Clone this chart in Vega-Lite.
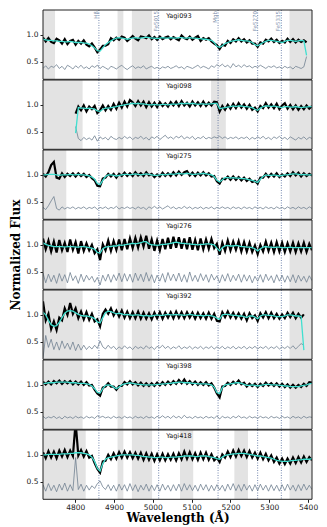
{
"$schema": "https://vega.github.io/schema/vega-lite/v6.json",
"background": "white",
"padding": {"left": 9, "top": 9, "right": 5, "bottom": 3},
"spacing": 0,
"bounds": "flush",
"config": {
 "view": {"stroke": null},
 "font": "DejaVu Sans",
 "axisX": {"grid": false, "domain": false, "tickSize": 3, "tickColor": "#222", "labelFontSize": 7.5, "labelColor": "#222", "labelFont": "DejaVu Sans", "titleFont": "DejaVu Serif", "titleFontWeight": "bold", "titleFontSize": 12, "titleColor": "#000", "titlePadding": 2, "labelPadding": 1},
 "axisY": {"grid": false, "domain": false, "tickSize": 3, "tickColor": "#222", "labelFontSize": 7.5, "labelColor": "#222", "labelFont": "DejaVu Sans", "titleFont": "DejaVu Serif", "titleFontWeight": "bold", "titleFontSize": 12, "titleColor": "#000", "labelPadding": 2}
},
"datasets": {
 "lines": [{"t":"Hβ","w":4861},{"t":"Fe5015","w":5015},{"t":"Mgb","w":5168},{"t":"Fe5270","w":5270},{"t":"Fe5335","w":5331}],
 "mask": [
  {"p":1,"a":4717,"b":4748},{"p":1,"a":4909,"b":4924},{"p":1,"a":4946,"b":4998},{"p":1,"a":5352,"b":5410},
  {"p":2,"a":4717,"b":4819},{"p":2,"a":4909,"b":4924},{"p":2,"a":4946,"b":4998},{"p":2,"a":5150,"b":5188},{"p":2,"a":5352,"b":5410},
  {"p":3,"a":4717,"b":4777},{"p":3,"a":4909,"b":4924},{"p":3,"a":4946,"b":4998},{"p":3,"a":5352,"b":5410},
  {"p":4,"a":4717,"b":4777},{"p":4,"a":4909,"b":4924},{"p":4,"a":4946,"b":4998},{"p":4,"a":5352,"b":5410},
  {"p":5,"a":4717,"b":4819},{"p":5,"a":4909,"b":4924},{"p":5,"a":4946,"b":4998},{"p":5,"a":5352,"b":5410},
  {"p":6,"a":4717,"b":4819},{"p":6,"a":4909,"b":4924},{"p":6,"a":4946,"b":4998},{"p":6,"a":5352,"b":5410},
  {"p":7,"a":4717,"b":4827},{"p":7,"a":4909,"b":4924},{"p":7,"a":4946,"b":4998},{"p":7,"a":5070,"b":5104},{"p":7,"a":5210,"b":5245},{"p":7,"a":5352,"b":5410}
 ],
 "spec": [
{"p":1,"w":4717,"f":0.95,"m":0.92,"r":0.38},{"p":1,"w":4724,"f":0.88,"m":0.91,"r":0.43},{"p":1,"w":4731,"f":0.94,"m":0.90,"r":0.37},{"p":1,"w":4738,"f":0.87,"m":0.90,"r":0.42},{"p":1,"w":4745,"f":0.85,"m":0.89,"r":0.40},{"p":1,"w":4752,"f":0.93,"m":0.89,"r":0.45},{"p":1,"w":4759,"f":0.90,"m":0.88,"r":0.38},{"p":1,"w":4766,"f":0.84,"m":0.88,"r":0.42},{"p":1,"w":4773,"f":0.92,"m":0.87,"r":0.36},{"p":1,"w":4780,"f":0.83,"m":0.87,"r":0.44},
{"p":1,"w":4787,"f":0.89,"m":0.88,"r":0.41},{"p":1,"w":4794,"f":0.91,"m":0.87,"r":0.37},{"p":1,"w":4801,"f":0.82,"m":0.86,"r":0.43},{"p":1,"w":4808,"f":0.89,"m":0.86,"r":0.39},{"p":1,"w":4815,"f":0.84,"m":0.86,"r":0.44},{"p":1,"w":4822,"f":0.90,"m":0.85,"r":0.38},{"p":1,"w":4829,"f":0.82,"m":0.85,"r":0.41},{"p":1,"w":4836,"f":0.79,"m":0.83,"r":0.37},{"p":1,"w":4843,"f":0.84,"m":0.80,"r":0.43},{"p":1,"w":4850,"f":0.77,"m":0.76,"r":0.40},
{"p":1,"w":4857,"f":0.68,"m":0.71,"r":0.44},{"p":1,"w":4864,"f":0.73,"m":0.70,"r":0.38},{"p":1,"w":4871,"f":0.80,"m":0.76,"r":0.42},{"p":1,"w":4878,"f":0.80,"m":0.82,"r":0.39},{"p":1,"w":4885,"f":0.83,"m":0.86,"r":0.36},{"p":1,"w":4892,"f":0.94,"m":0.89,"r":0.42},{"p":1,"w":4899,"f":0.90,"m":0.92,"r":0.40},{"p":1,"w":4906,"f":0.95,"m":0.94,"r":0.37},{"p":1,"w":4913,"f":0.91,"m":0.95,"r":0.41},{"p":1,"w":4920,"f":0.97,"m":0.94,"r":0.44},
{"p":1,"w":4927,"f":0.95,"m":0.93,"r":0.39},{"p":1,"w":4934,"f":0.89,"m":0.92,"r":0.36},{"p":1,"w":4941,"f":0.93,"m":0.93,"r":0.40},{"p":1,"w":4948,"f":0.98,"m":0.94,"r":0.43},{"p":1,"w":4955,"f":0.93,"m":0.95,"r":0.38},{"p":1,"w":4962,"f":0.90,"m":0.94,"r":0.41},{"p":1,"w":4969,"f":0.97,"m":0.94,"r":0.39},{"p":1,"w":4976,"f":0.96,"m":0.95,"r":0.43},{"p":1,"w":4983,"f":0.94,"m":0.96,"r":0.37},{"p":1,"w":4990,"f":0.99,"m":0.95,"r":0.40},
{"p":1,"w":4997,"f":0.92,"m":0.94,"r":0.42},{"p":1,"w":5004,"f":0.96,"m":0.94,"r":0.38},{"p":1,"w":5011,"f":0.91,"m":0.93,"r":0.40},{"p":1,"w":5018,"f":0.97,"m":0.94,"r":0.37},{"p":1,"w":5025,"f":0.92,"m":0.95,"r":0.41},{"p":1,"w":5032,"f":0.95,"m":0.94,"r":0.39},{"p":1,"w":5039,"f":0.97,"m":0.94,"r":0.42},{"p":1,"w":5046,"f":0.92,"m":0.95,"r":0.38},{"p":1,"w":5053,"f":0.96,"m":0.94,"r":0.40},{"p":1,"w":5060,"f":0.93,"m":0.94,"r":0.43},
{"p":1,"w":5067,"f":0.90,"m":0.95,"r":0.39},{"p":1,"w":5074,"f":0.99,"m":0.95,"r":0.41},{"p":1,"w":5081,"f":0.94,"m":0.94,"r":0.37},{"p":1,"w":5088,"f":0.92,"m":0.94,"r":0.42},{"p":1,"w":5095,"f":0.97,"m":0.95,"r":0.40},{"p":1,"w":5102,"f":0.91,"m":0.94,"r":0.38},{"p":1,"w":5109,"f":0.95,"m":0.94,"r":0.41},{"p":1,"w":5116,"f":0.98,"m":0.93,"r":0.44},{"p":1,"w":5123,"f":0.89,"m":0.93,"r":0.39},{"p":1,"w":5130,"f":0.94,"m":0.92,"r":0.42},
{"p":1,"w":5137,"f":0.91,"m":0.92,"r":0.40},{"p":1,"w":5144,"f":0.94,"m":0.91,"r":0.37},{"p":1,"w":5151,"f":0.88,"m":0.90,"r":0.43},{"p":1,"w":5158,"f":0.84,"m":0.86,"r":0.40},{"p":1,"w":5165,"f":0.81,"m":0.79,"r":0.45},{"p":1,"w":5172,"f":0.74,"m":0.77,"r":0.42},{"p":1,"w":5179,"f":0.82,"m":0.80,"r":0.46},{"p":1,"w":5186,"f":0.80,"m":0.84,"r":0.41},{"p":1,"w":5193,"f":0.89,"m":0.86,"r":0.44},{"p":1,"w":5200,"f":0.85,"m":0.88,"r":0.39},
{"p":1,"w":5207,"f":0.92,"m":0.89,"r":0.47},{"p":1,"w":5214,"f":0.88,"m":0.90,"r":0.41},{"p":1,"w":5221,"f":0.94,"m":0.91,"r":0.44},{"p":1,"w":5228,"f":0.88,"m":0.90,"r":0.40},{"p":1,"w":5235,"f":0.92,"m":0.89,"r":0.45},{"p":1,"w":5242,"f":0.86,"m":0.89,"r":0.41},{"p":1,"w":5249,"f":0.90,"m":0.88,"r":0.43},{"p":1,"w":5256,"f":0.84,"m":0.86,"r":0.39},{"p":1,"w":5263,"f":0.84,"m":0.82,"r":0.42},{"p":1,"w":5270,"f":0.78,"m":0.80,"r":0.40},
{"p":1,"w":5277,"f":0.86,"m":0.83,"r":0.44},{"p":1,"w":5284,"f":0.84,"m":0.86,"r":0.41},{"p":1,"w":5291,"f":0.91,"m":0.88,"r":0.38},{"p":1,"w":5298,"f":0.88,"m":0.90,"r":0.42},{"p":1,"w":5305,"f":0.93,"m":0.90,"r":0.40},{"p":1,"w":5312,"f":0.87,"m":0.89,"r":0.43},{"p":1,"w":5319,"f":0.91,"m":0.88,"r":0.39},{"p":1,"w":5326,"f":0.85,"m":0.87,"r":0.41},{"p":1,"w":5333,"f":0.89,"m":0.86,"r":0.38},{"p":1,"w":5340,"f":0.86,"m":0.88,"r":0.42},
{"p":1,"w":5347,"f":0.93,"m":0.90,"r":0.39},{"p":1,"w":5354,"f":0.87,"m":0.90,"r":0.41},{"p":1,"w":5361,"f":0.92,"m":0.89,"r":0.37},{"p":1,"w":5368,"f":0.86,"m":0.88,"r":0.42},{"p":1,"w":5375,"f":0.91,"m":0.89,"r":0.40},{"p":1,"w":5382,"f":0.87,"m":0.90,"r":0.38},{"p":1,"w":5389,"f":0.90,"m":0.89,"r":0.41},{"p":1,"w":5396,"f":0.86,"m":0.62,"r":0.60},

{"p":2,"w":4801,"f":0.84,"m":0.48,"r":0.60},{"p":2,"w":4808,"f":0.97,"m":0.95,"r":0.38},{"p":2,"w":4815,"f":0.90,"m":0.94,"r":0.34},{"p":2,"w":4822,"f":0.99,"m":0.94,"r":0.40},{"p":2,"w":4829,"f":0.88,"m":0.93,"r":0.36},{"p":2,"w":4836,"f":0.97,"m":0.94,"r":0.39},{"p":2,"w":4843,"f":0.92,"m":0.93,"r":0.35},{"p":2,"w":4850,"f":0.98,"m":0.92,"r":0.43},
{"p":2,"w":4857,"f":0.85,"m":0.89,"r":0.33},{"p":2,"w":4864,"f":0.90,"m":0.88,"r":0.41},{"p":2,"w":4871,"f":0.99,"m":0.92,"r":0.37},{"p":2,"w":4878,"f":0.90,"m":0.94,"r":0.40},{"p":2,"w":4885,"f":0.98,"m":0.94,"r":0.35},{"p":2,"w":4892,"f":0.91,"m":0.95,"r":0.42},{"p":2,"w":4899,"f":1.02,"m":0.96,"r":0.38},{"p":2,"w":4906,"f":0.93,"m":0.97,"r":0.36},{"p":2,"w":4913,"f":1.04,"m":0.98,"r":0.40},{"p":2,"w":4920,"f":0.95,"m":0.99,"r":0.37},
{"p":2,"w":4927,"f":1.06,"m":1.00,"r":0.42},{"p":2,"w":4934,"f":0.97,"m":1.01,"r":0.38},{"p":2,"w":4941,"f":1.09,"m":1.02,"r":0.41},{"p":2,"w":4948,"f":1.05,"m":1.03,"r":0.36},{"p":2,"w":4955,"f":0.98,"m":1.02,"r":0.40},{"p":2,"w":4962,"f":1.07,"m":1.03,"r":0.38},{"p":2,"w":4969,"f":0.99,"m":1.02,"r":0.42},{"p":2,"w":4976,"f":1.06,"m":1.02,"r":0.37},{"p":2,"w":4983,"f":0.96,"m":1.01,"r":0.40},{"p":2,"w":4990,"f":1.05,"m":1.00,"r":0.35},
{"p":2,"w":4997,"f":0.97,"m":1.00,"r":0.41},{"p":2,"w":5004,"f":1.04,"m":1.01,"r":0.38},{"p":2,"w":5011,"f":0.96,"m":1.00,"r":0.42},{"p":2,"w":5018,"f":1.05,"m":1.00,"r":0.36},{"p":2,"w":5025,"f":0.98,"m":1.01,"r":0.40},{"p":2,"w":5032,"f":1.03,"m":1.01,"r":0.44},{"p":2,"w":5039,"f":0.97,"m":1.00,"r":0.38},{"p":2,"w":5046,"f":1.05,"m":1.01,"r":0.41},{"p":2,"w":5053,"f":0.99,"m":1.02,"r":0.37},{"p":2,"w":5060,"f":1.06,"m":1.01,"r":0.42},
{"p":2,"w":5067,"f":0.98,"m":1.02,"r":0.39},{"p":2,"w":5074,"f":1.07,"m":1.03,"r":0.43},{"p":2,"w":5081,"f":0.99,"m":1.02,"r":0.37},{"p":2,"w":5088,"f":1.04,"m":1.03,"r":0.41},{"p":2,"w":5095,"f":0.97,"m":1.02,"r":0.38},{"p":2,"w":5102,"f":1.06,"m":1.03,"r":0.42},{"p":2,"w":5109,"f":0.99,"m":1.02,"r":0.36},{"p":2,"w":5116,"f":1.05,"m":1.01,"r":0.40},{"p":2,"w":5123,"f":0.98,"m":1.02,"r":0.38},{"p":2,"w":5130,"f":1.06,"m":1.02,"r":0.42},
{"p":2,"w":5137,"f":0.98,"m":1.01,"r":0.37},{"p":2,"w":5144,"f":1.04,"m":1.02,"r":0.40},{"p":2,"w":5151,"f":0.99,"m":1.02,"r":0.38},{"p":2,"w":5158,"f":1.06,"m":1.03,"r":0.41},{"p":2,"w":5165,"f":1.05,"m":1.03,"r":0.39},{"p":2,"w":5172,"f":0.88,"m":0.93,"r":0.42},{"p":2,"w":5179,"f":0.98,"m":0.94,"r":0.38},{"p":2,"w":5186,"f":0.91,"m":0.95,"r":0.41},{"p":2,"w":5193,"f":1.00,"m":0.96,"r":0.37},{"p":2,"w":5200,"f":0.93,"m":0.97,"r":0.40},
{"p":2,"w":5207,"f":1.02,"m":0.98,"r":0.38},{"p":2,"w":5214,"f":0.94,"m":0.97,"r":0.41},{"p":2,"w":5221,"f":1.03,"m":0.98,"r":0.37},{"p":2,"w":5228,"f":0.95,"m":0.98,"r":0.40},{"p":2,"w":5235,"f":1.01,"m":0.97,"r":0.38},{"p":2,"w":5242,"f":0.93,"m":0.97,"r":0.41},{"p":2,"w":5249,"f":1.00,"m":0.96,"r":0.36},{"p":2,"w":5256,"f":0.91,"m":0.95,"r":0.40},{"p":2,"w":5263,"f":0.95,"m":0.92,"r":0.37},{"p":2,"w":5270,"f":0.88,"m":0.90,"r":0.41},
{"p":2,"w":5277,"f":0.98,"m":0.94,"r":0.38},{"p":2,"w":5284,"f":0.94,"m":0.97,"r":0.42},{"p":2,"w":5291,"f":1.03,"m":0.98,"r":0.37},{"p":2,"w":5298,"f":0.95,"m":0.98,"r":0.40},{"p":2,"w":5305,"f":1.01,"m":0.97,"r":0.36},{"p":2,"w":5312,"f":0.94,"m":0.98,"r":0.41},{"p":2,"w":5319,"f":1.02,"m":0.97,"r":0.38},{"p":2,"w":5326,"f":0.92,"m":0.96,"r":0.42},{"p":2,"w":5333,"f":0.99,"m":0.95,"r":0.37},{"p":2,"w":5340,"f":1.03,"m":0.97,"r":0.40},
{"p":2,"w":5347,"f":0.93,"m":0.97,"r":0.36},{"p":2,"w":5354,"f":1.00,"m":0.96,"r":0.41},{"p":2,"w":5361,"f":0.92,"m":0.96,"r":0.38},{"p":2,"w":5368,"f":0.99,"m":0.97,"r":0.35},{"p":2,"w":5375,"f":0.91,"m":0.96,"r":0.40},{"p":2,"w":5382,"f":0.98,"m":0.95,"r":0.37},{"p":2,"w":5389,"f":0.92,"m":0.96,"r":0.41},{"p":2,"w":5396,"f":0.99,"m":0.96,"r":0.36},{"p":2,"w":5403,"f":0.93,"m":0.97,"r":0.40},{"p":2,"w":5410,"f":0.98,"m":0.97,"r":0.38},

{"p":3,"w":4717,"f":1.02,"m":1.00,"r":0.40},{"p":3,"w":4724,"f":0.97,"m":1.00,"r":0.36},{"p":3,"w":4731,"f":1.05,"m":1.01,"r":0.43},{"p":3,"w":4738,"f":1.18,"m":1.01,"r":0.52},{"p":3,"w":4745,"f":1.24,"m":1.01,"r":0.60},{"p":3,"w":4752,"f":0.95,"m":1.00,"r":0.38},{"p":3,"w":4759,"f":0.93,"m":0.99,"r":0.35},{"p":3,"w":4766,"f":1.03,"m":1.00,"r":0.41},{"p":3,"w":4773,"f":0.96,"m":1.00,"r":0.37},{"p":3,"w":4780,"f":1.02,"m":1.00,"r":0.40},
{"p":3,"w":4787,"f":0.98,"m":1.01,"r":0.38},{"p":3,"w":4794,"f":1.03,"m":1.00,"r":0.41},{"p":3,"w":4801,"f":0.97,"m":1.00,"r":0.37},{"p":3,"w":4808,"f":1.03,"m":1.01,"r":0.40},{"p":3,"w":4815,"f":0.98,"m":1.00,"r":0.38},{"p":3,"w":4822,"f":1.02,"m":1.00,"r":0.41},{"p":3,"w":4829,"f":0.96,"m":0.99,"r":0.37},{"p":3,"w":4836,"f":1.00,"m":0.98,"r":0.40},{"p":3,"w":4843,"f":0.94,"m":0.96,"r":0.38},{"p":3,"w":4850,"f":0.90,"m":0.92,"r":0.41},
{"p":3,"w":4857,"f":0.80,"m":0.84,"r":0.36},{"p":3,"w":4864,"f":0.79,"m":0.82,"r":0.40},{"p":3,"w":4871,"f":0.93,"m":0.90,"r":0.38},{"p":3,"w":4878,"f":0.95,"m":0.97,"r":0.41},{"p":3,"w":4885,"f":1.02,"m":1.00,"r":0.37},{"p":3,"w":4892,"f":0.97,"m":1.00,"r":0.40},{"p":3,"w":4899,"f":1.02,"m":0.99,"r":0.38},{"p":3,"w":4906,"f":0.95,"m":0.98,"r":0.42},{"p":3,"w":4913,"f":1.02,"m":0.99,"r":0.37},{"p":3,"w":4920,"f":0.98,"m":1.00,"r":0.40},
{"p":3,"w":4927,"f":1.04,"m":1.01,"r":0.38},{"p":3,"w":4934,"f":0.98,"m":1.01,"r":0.41},{"p":3,"w":4941,"f":1.03,"m":1.00,"r":0.38},{"p":3,"w":4948,"f":0.98,"m":1.01,"r":0.40},{"p":3,"w":4955,"f":1.05,"m":1.02,"r":0.37},{"p":3,"w":4962,"f":0.99,"m":1.01,"r":0.41},{"p":3,"w":4969,"f":1.03,"m":1.00,"r":0.38},{"p":3,"w":4976,"f":0.98,"m":1.01,"r":0.40},{"p":3,"w":4983,"f":1.05,"m":1.02,"r":0.36},{"p":3,"w":4990,"f":0.99,"m":1.01,"r":0.41},
{"p":3,"w":4997,"f":1.02,"m":1.00,"r":0.38},{"p":3,"w":5004,"f":0.96,"m":0.99,"r":0.42},{"p":3,"w":5011,"f":1.01,"m":0.99,"r":0.38},{"p":3,"w":5018,"f":0.97,"m":1.00,"r":0.41},{"p":3,"w":5025,"f":1.04,"m":1.01,"r":0.37},{"p":3,"w":5032,"f":0.98,"m":1.00,"r":0.40},{"p":3,"w":5039,"f":1.03,"m":1.01,"r":0.43},{"p":3,"w":5046,"f":0.98,"m":1.02,"r":0.38},{"p":3,"w":5053,"f":1.05,"m":1.01,"r":0.41},{"p":3,"w":5060,"f":0.99,"m":1.02,"r":0.37},
{"p":3,"w":5067,"f":1.06,"m":1.03,"r":0.40},{"p":3,"w":5074,"f":1.00,"m":1.02,"r":0.38},{"p":3,"w":5081,"f":1.05,"m":1.02,"r":0.42},{"p":3,"w":5088,"f":1.07,"m":1.03,"r":0.38},{"p":3,"w":5095,"f":0.99,"m":1.02,"r":0.41},{"p":3,"w":5102,"f":1.04,"m":1.01,"r":0.37},{"p":3,"w":5109,"f":0.98,"m":1.01,"r":0.40},{"p":3,"w":5116,"f":1.04,"m":1.02,"r":0.38},{"p":3,"w":5123,"f":0.99,"m":1.02,"r":0.41},{"p":3,"w":5130,"f":1.05,"m":1.03,"r":0.37},
{"p":3,"w":5137,"f":0.99,"m":1.02,"r":0.40},{"p":3,"w":5144,"f":1.03,"m":1.01,"r":0.38},{"p":3,"w":5151,"f":0.97,"m":1.00,"r":0.41},{"p":3,"w":5158,"f":0.98,"m":0.97,"r":0.37},{"p":3,"w":5165,"f":0.88,"m":0.90,"r":0.40},{"p":3,"w":5172,"f":0.84,"m":0.87,"r":0.38},{"p":3,"w":5179,"f":0.93,"m":0.91,"r":0.41},{"p":3,"w":5186,"f":0.92,"m":0.95,"r":0.38},{"p":3,"w":5193,"f":0.97,"m":0.95,"r":0.40},{"p":3,"w":5200,"f":0.91,"m":0.94,"r":0.37},
{"p":3,"w":5207,"f":0.97,"m":0.95,"r":0.41},{"p":3,"w":5214,"f":0.91,"m":0.94,"r":0.38},{"p":3,"w":5221,"f":0.96,"m":0.94,"r":0.40},{"p":3,"w":5228,"f":0.90,"m":0.93,"r":0.37},{"p":3,"w":5235,"f":0.95,"m":0.93,"r":0.41},{"p":3,"w":5242,"f":0.89,"m":0.92,"r":0.38},{"p":3,"w":5249,"f":0.93,"m":0.91,"r":0.40},{"p":3,"w":5256,"f":0.87,"m":0.90,"r":0.37},{"p":3,"w":5263,"f":0.89,"m":0.88,"r":0.41},{"p":3,"w":5270,"f":0.84,"m":0.86,"r":0.38},
{"p":3,"w":5277,"f":0.95,"m":0.92,"r":0.40},{"p":3,"w":5284,"f":0.95,"m":0.97,"r":0.37},{"p":3,"w":5291,"f":1.02,"m":1.00,"r":0.41},{"p":3,"w":5298,"f":0.96,"m":0.99,"r":0.38},{"p":3,"w":5305,"f":1.02,"m":0.99,"r":0.40},{"p":3,"w":5312,"f":0.97,"m":1.00,"r":0.37},{"p":3,"w":5319,"f":1.03,"m":0.99,"r":0.41},{"p":3,"w":5326,"f":0.96,"m":0.98,"r":0.38},{"p":3,"w":5333,"f":1.01,"m":0.99,"r":0.40},{"p":3,"w":5340,"f":0.97,"m":1.00,"r":0.37},
{"p":3,"w":5347,"f":1.03,"m":1.00,"r":0.41},{"p":3,"w":5354,"f":0.98,"m":1.01,"r":0.38},{"p":3,"w":5361,"f":1.05,"m":1.02,"r":0.40},{"p":3,"w":5368,"f":0.99,"m":1.02,"r":0.37},{"p":3,"w":5375,"f":1.04,"m":1.01,"r":0.41},{"p":3,"w":5382,"f":0.97,"m":1.00,"r":0.38},{"p":3,"w":5389,"f":1.03,"m":1.01,"r":0.40},{"p":3,"w":5396,"f":0.98,"m":1.00,"r":0.37},{"p":3,"w":5403,"f":1.02,"m":1.00,"r":0.41},{"p":3,"w":5410,"f":0.99,"m":1.00,"r":0.38},

{"p":4,"w":4717,"f":1.12,"m":1.04,"r":0.48},{"p":4,"w":4724,"f":0.92,"m":1.01,"r":0.30},{"p":4,"w":4731,"f":1.08,"m":0.99,"r":0.46},{"p":4,"w":4738,"f":0.88,"m":0.98,"r":0.32},{"p":4,"w":4745,"f":1.06,"m":0.97,"r":0.44},{"p":4,"w":4752,"f":0.86,"m":0.97,"r":0.29},{"p":4,"w":4759,"f":1.09,"m":0.97,"r":0.47},{"p":4,"w":4766,"f":0.90,"m":0.97,"r":0.33},{"p":4,"w":4773,"f":1.04,"m":0.96,"r":0.45},{"p":4,"w":4780,"f":0.87,"m":0.97,"r":0.30},
{"p":4,"w":4787,"f":1.10,"m":0.97,"r":0.49},{"p":4,"w":4794,"f":0.91,"m":0.97,"r":0.34},{"p":4,"w":4801,"f":1.05,"m":0.96,"r":0.43},{"p":4,"w":4808,"f":0.84,"m":0.96,"r":0.29},{"p":4,"w":4815,"f":1.07,"m":0.97,"r":0.46},{"p":4,"w":4822,"f":0.89,"m":0.97,"r":0.32},{"p":4,"w":4829,"f":1.03,"m":0.96,"r":0.44},{"p":4,"w":4836,"f":0.90,"m":0.95,"r":0.35},{"p":4,"w":4843,"f":1.00,"m":0.94,"r":0.42},{"p":4,"w":4850,"f":0.85,"m":0.92,"r":0.31},
{"p":4,"w":4857,"f":0.92,"m":0.86,"r":0.40},{"p":4,"w":4864,"f":0.72,"m":0.85,"r":0.26},{"p":4,"w":4871,"f":1.01,"m":0.93,"r":0.44},{"p":4,"w":4878,"f":0.90,"m":0.96,"r":0.33},{"p":4,"w":4885,"f":1.08,"m":0.97,"r":0.46},{"p":4,"w":4892,"f":0.89,"m":0.97,"r":0.31},{"p":4,"w":4899,"f":1.07,"m":0.98,"r":0.45},{"p":4,"w":4906,"f":0.91,"m":0.98,"r":0.34},{"p":4,"w":4913,"f":1.10,"m":1.00,"r":0.48},{"p":4,"w":4920,"f":0.90,"m":0.99,"r":0.32},
{"p":4,"w":4927,"f":1.11,"m":1.00,"r":0.47},{"p":4,"w":4934,"f":0.92,"m":1.01,"r":0.33},{"p":4,"w":4941,"f":1.12,"m":1.02,"r":0.46},{"p":4,"w":4948,"f":0.94,"m":1.03,"r":0.31},{"p":4,"w":4955,"f":1.13,"m":1.02,"r":0.48},{"p":4,"w":4962,"f":0.95,"m":1.03,"r":0.34},{"p":4,"w":4969,"f":1.14,"m":1.04,"r":0.46},{"p":4,"w":4976,"f":0.97,"m":1.06,"r":0.32},{"p":4,"w":4983,"f":1.17,"m":1.06,"r":0.49},{"p":4,"w":4990,"f":0.93,"m":1.02,"r":0.33},
{"p":4,"w":4997,"f":1.10,"m":1.00,"r":0.45},{"p":4,"w":5004,"f":0.89,"m":1.00,"r":0.30},{"p":4,"w":5011,"f":1.08,"m":0.99,"r":0.44},{"p":4,"w":5018,"f":0.90,"m":1.00,"r":0.33},{"p":4,"w":5025,"f":1.11,"m":1.01,"r":0.47},{"p":4,"w":5032,"f":0.92,"m":1.01,"r":0.31},{"p":4,"w":5039,"f":1.13,"m":1.02,"r":0.49},{"p":4,"w":5046,"f":0.93,"m":1.03,"r":0.34},{"p":4,"w":5053,"f":1.15,"m":1.04,"r":0.46},{"p":4,"w":5060,"f":0.95,"m":1.05,"r":0.33},
{"p":4,"w":5067,"f":1.14,"m":1.04,"r":0.48},{"p":4,"w":5074,"f":0.93,"m":1.03,"r":0.32},{"p":4,"w":5081,"f":1.12,"m":1.03,"r":0.45},{"p":4,"w":5088,"f":0.92,"m":1.02,"r":0.31},{"p":4,"w":5095,"f":1.14,"m":1.02,"r":0.50},{"p":4,"w":5102,"f":0.91,"m":1.01,"r":0.33},{"p":4,"w":5109,"f":1.09,"m":1.01,"r":0.44},{"p":4,"w":5116,"f":0.90,"m":1.00,"r":0.32},{"p":4,"w":5123,"f":1.12,"m":1.01,"r":0.47},{"p":4,"w":5130,"f":0.92,"m":1.01,"r":0.34},
{"p":4,"w":5137,"f":1.10,"m":1.02,"r":0.45},{"p":4,"w":5144,"f":0.93,"m":1.02,"r":0.31},{"p":4,"w":5151,"f":1.11,"m":1.01,"r":0.46},{"p":4,"w":5158,"f":0.94,"m":1.00,"r":0.35},{"p":4,"w":5165,"f":1.02,"m":0.94,"r":0.43},{"p":4,"w":5172,"f":0.82,"m":0.89,"r":0.30},{"p":4,"w":5179,"f":1.04,"m":0.95,"r":0.45},{"p":4,"w":5186,"f":0.89,"m":0.98,"r":0.33},{"p":4,"w":5193,"f":1.08,"m":0.99,"r":0.47},{"p":4,"w":5200,"f":0.90,"m":0.98,"r":0.32},
{"p":4,"w":5207,"f":1.06,"m":0.98,"r":0.44},{"p":4,"w":5214,"f":0.91,"m":0.99,"r":0.34},{"p":4,"w":5221,"f":1.07,"m":0.98,"r":0.46},{"p":4,"w":5228,"f":0.88,"m":0.97,"r":0.31},{"p":4,"w":5235,"f":1.05,"m":0.97,"r":0.45},{"p":4,"w":5242,"f":0.88,"m":0.96,"r":0.33},{"p":4,"w":5249,"f":1.04,"m":0.96,"r":0.44},{"p":4,"w":5256,"f":0.87,"m":0.95,"r":0.30},{"p":4,"w":5263,"f":0.99,"m":0.93,"r":0.42},{"p":4,"w":5270,"f":0.83,"m":0.89,"r":0.33},
{"p":4,"w":5277,"f":1.00,"m":0.93,"r":0.45},{"p":4,"w":5284,"f":0.88,"m":0.96,"r":0.31},{"p":4,"w":5291,"f":1.06,"m":0.97,"r":0.46},{"p":4,"w":5298,"f":0.89,"m":0.96,"r":0.34},{"p":4,"w":5305,"f":1.04,"m":0.96,"r":0.43},{"p":4,"w":5312,"f":0.87,"m":0.95,"r":0.30},{"p":4,"w":5319,"f":1.05,"m":0.96,"r":0.45},{"p":4,"w":5326,"f":0.88,"m":0.96,"r":0.33},{"p":4,"w":5333,"f":1.04,"m":0.95,"r":0.44},{"p":4,"w":5340,"f":0.87,"m":0.95,"r":0.31},
{"p":4,"w":5347,"f":1.03,"m":0.95,"r":0.43},{"p":4,"w":5354,"f":0.88,"m":0.96,"r":0.32},{"p":4,"w":5361,"f":1.04,"m":0.95,"r":0.45},{"p":4,"w":5368,"f":0.87,"m":0.95,"r":0.30},{"p":4,"w":5375,"f":1.03,"m":0.95,"r":0.44},{"p":4,"w":5382,"f":0.88,"m":0.95,"r":0.33},{"p":4,"w":5389,"f":1.04,"m":0.95,"r":0.42},{"p":4,"w":5396,"f":0.87,"m":0.95,"r":0.31},{"p":4,"w":5403,"f":1.02,"m":0.95,"r":0.43},{"p":4,"w":5410,"f":0.90,"m":0.95,"r":0.34},

{"p":5,"w":4717,"f":1.25,"m":1.05,"r":0.20},{"p":5,"w":4724,"f":0.90,"m":1.00,"r":0.62},{"p":5,"w":4731,"f":1.02,"m":0.90,"r":0.40},{"p":5,"w":4738,"f":0.74,"m":0.82,"r":0.55},{"p":5,"w":4745,"f":0.88,"m":0.79,"r":0.36},{"p":5,"w":4752,"f":0.72,"m":0.80,"r":0.50},{"p":5,"w":4759,"f":0.95,"m":0.86,"r":0.35},{"p":5,"w":4766,"f":0.90,"m":0.95,"r":0.52},{"p":5,"w":4773,"f":1.12,"m":1.03,"r":0.38},{"p":5,"w":4780,"f":1.00,"m":1.07,"r":0.48},
{"p":5,"w":4787,"f":1.22,"m":1.08,"r":0.36},{"p":5,"w":4794,"f":1.02,"m":1.07,"r":0.50},{"p":5,"w":4801,"f":1.12,"m":1.04,"r":0.34},{"p":5,"w":4808,"f":0.94,"m":1.01,"r":0.46},{"p":5,"w":4815,"f":1.06,"m":0.99,"r":0.35},{"p":5,"w":4822,"f":0.92,"m":0.98,"r":0.44},{"p":5,"w":4829,"f":1.05,"m":0.98,"r":0.36},{"p":5,"w":4836,"f":0.91,"m":0.97,"r":0.42},{"p":5,"w":4843,"f":1.02,"m":0.96,"r":0.37},{"p":5,"w":4850,"f":0.88,"m":0.93,"r":0.44},
{"p":5,"w":4857,"f":0.92,"m":0.87,"r":0.38},{"p":5,"w":4864,"f":0.79,"m":0.85,"r":0.52},{"p":5,"w":4871,"f":1.02,"m":0.95,"r":0.41},{"p":5,"w":4878,"f":1.10,"m":1.04,"r":0.37},{"p":5,"w":4885,"f":1.02,"m":1.07,"r":0.44},{"p":5,"w":4892,"f":1.12,"m":1.06,"r":0.38},{"p":5,"w":4899,"f":0.99,"m":1.04,"r":0.42},{"p":5,"w":4906,"f":1.08,"m":1.02,"r":0.36},{"p":5,"w":4913,"f":0.97,"m":1.03,"r":0.41},{"p":5,"w":4920,"f":1.08,"m":1.02,"r":0.37},
{"p":5,"w":4927,"f":0.95,"m":1.00,"r":0.43},{"p":5,"w":4934,"f":1.06,"m":1.01,"r":0.38},{"p":5,"w":4941,"f":0.94,"m":1.00,"r":0.41},{"p":5,"w":4948,"f":1.05,"m":0.99,"r":0.36},{"p":5,"w":4955,"f":0.94,"m":1.00,"r":0.42},{"p":5,"w":4962,"f":1.06,"m":1.00,"r":0.38},{"p":5,"w":4969,"f":0.93,"m":0.99,"r":0.41},{"p":5,"w":4976,"f":1.04,"m":0.98,"r":0.37},{"p":5,"w":4983,"f":0.93,"m":0.99,"r":0.43},{"p":5,"w":4990,"f":1.03,"m":0.98,"r":0.38},
{"p":5,"w":4997,"f":0.92,"m":0.98,"r":0.41},{"p":5,"w":5004,"f":1.04,"m":0.99,"r":0.36},{"p":5,"w":5011,"f":0.94,"m":1.00,"r":0.42},{"p":5,"w":5018,"f":1.05,"m":0.99,"r":0.39},{"p":5,"w":5025,"f":0.93,"m":0.99,"r":0.44},{"p":5,"w":5032,"f":1.04,"m":1.00,"r":0.38},{"p":5,"w":5039,"f":0.95,"m":1.01,"r":0.42},{"p":5,"w":5046,"f":1.05,"m":1.00,"r":0.37},{"p":5,"w":5053,"f":0.94,"m":1.00,"r":0.41},{"p":5,"w":5060,"f":1.06,"m":1.01,"r":0.38},
{"p":5,"w":5067,"f":0.95,"m":1.00,"r":0.43},{"p":5,"w":5074,"f":1.05,"m":1.00,"r":0.37},{"p":5,"w":5081,"f":0.94,"m":0.99,"r":0.41},{"p":5,"w":5088,"f":1.05,"m":1.00,"r":0.38},{"p":5,"w":5095,"f":0.95,"m":1.01,"r":0.42},{"p":5,"w":5102,"f":1.04,"m":1.00,"r":0.37},{"p":5,"w":5109,"f":0.93,"m":0.99,"r":0.41},{"p":5,"w":5116,"f":1.04,"m":0.99,"r":0.38},{"p":5,"w":5123,"f":0.94,"m":0.99,"r":0.42},{"p":5,"w":5130,"f":1.03,"m":0.98,"r":0.37},
{"p":5,"w":5137,"f":0.93,"m":0.99,"r":0.41},{"p":5,"w":5144,"f":1.04,"m":0.99,"r":0.38},{"p":5,"w":5151,"f":0.93,"m":0.98,"r":0.42},{"p":5,"w":5158,"f":1.02,"m":0.97,"r":0.37},{"p":5,"w":5165,"f":0.89,"m":0.94,"r":0.41},{"p":5,"w":5172,"f":0.88,"m":0.92,"r":0.38},{"p":5,"w":5179,"f":1.05,"m":1.00,"r":0.42},{"p":5,"w":5186,"f":0.96,"m":1.01,"r":0.37},{"p":5,"w":5193,"f":1.06,"m":1.01,"r":0.41},{"p":5,"w":5200,"f":0.95,"m":1.00,"r":0.38},
{"p":5,"w":5207,"f":1.04,"m":0.99,"r":0.42},{"p":5,"w":5214,"f":0.94,"m":0.99,"r":0.37},{"p":5,"w":5221,"f":1.03,"m":0.98,"r":0.41},{"p":5,"w":5228,"f":0.93,"m":0.98,"r":0.38},{"p":5,"w":5235,"f":1.02,"m":0.97,"r":0.42},{"p":5,"w":5242,"f":0.90,"m":0.95,"r":0.37},{"p":5,"w":5249,"f":1.03,"m":0.98,"r":0.41},{"p":5,"w":5256,"f":0.94,"m":0.98,"r":0.38},{"p":5,"w":5263,"f":0.99,"m":0.96,"r":0.42},{"p":5,"w":5270,"f":0.89,"m":0.93,"r":0.37},
{"p":5,"w":5277,"f":1.03,"m":0.98,"r":0.41},{"p":5,"w":5284,"f":0.95,"m":1.00,"r":0.38},{"p":5,"w":5291,"f":1.05,"m":1.00,"r":0.42},{"p":5,"w":5298,"f":0.94,"m":0.99,"r":0.37},{"p":5,"w":5305,"f":1.04,"m":0.99,"r":0.41},{"p":5,"w":5312,"f":0.94,"m":0.98,"r":0.38},{"p":5,"w":5319,"f":1.02,"m":0.97,"r":0.42},{"p":5,"w":5326,"f":0.93,"m":0.97,"r":0.37},{"p":5,"w":5333,"f":1.01,"m":0.97,"r":0.41},{"p":5,"w":5340,"f":0.94,"m":0.98,"r":0.38},
{"p":5,"w":5347,"f":1.04,"m":1.00,"r":0.42},{"p":5,"w":5354,"f":0.96,"m":1.00,"r":0.38},{"p":5,"w":5361,"f":1.04,"m":0.99,"r":0.43},{"p":5,"w":5368,"f":0.94,"m":0.98,"r":0.37},{"p":5,"w":5375,"f":1.02,"m":0.98,"r":0.42},{"p":5,"w":5382,"f":0.95,"m":0.97,"r":0.47},{"p":5,"w":5389,"f":1.01,"m":0.35,"r":0.44},

{"p":6,"w":4717,"f":1.06,"m":1.03,"r":0.42},{"p":6,"w":4724,"f":1.01,"m":1.03,"r":0.38},{"p":6,"w":4731,"f":1.06,"m":1.04,"r":0.41},{"p":6,"w":4738,"f":1.01,"m":1.04,"r":0.39},{"p":6,"w":4745,"f":1.07,"m":1.04,"r":0.42},{"p":6,"w":4752,"f":1.03,"m":1.05,"r":0.38},{"p":6,"w":4759,"f":1.08,"m":1.05,"r":0.41},{"p":6,"w":4766,"f":1.02,"m":1.05,"r":0.37},{"p":6,"w":4773,"f":1.07,"m":1.05,"r":0.42},{"p":6,"w":4780,"f":1.03,"m":1.05,"r":0.39},
{"p":6,"w":4787,"f":1.07,"m":1.04,"r":0.41},{"p":6,"w":4794,"f":1.01,"m":1.04,"r":0.38},{"p":6,"w":4801,"f":1.06,"m":1.04,"r":0.42},{"p":6,"w":4808,"f":1.01,"m":1.03,"r":0.39},{"p":6,"w":4815,"f":1.06,"m":1.03,"r":0.41},{"p":6,"w":4822,"f":1.00,"m":1.03,"r":0.38},{"p":6,"w":4829,"f":1.05,"m":1.02,"r":0.42},{"p":6,"w":4836,"f":0.99,"m":1.01,"r":0.39},{"p":6,"w":4843,"f":1.00,"m":0.98,"r":0.41},{"p":6,"w":4850,"f":0.91,"m":0.93,"r":0.38},
{"p":6,"w":4857,"f":0.84,"m":0.86,"r":0.43},{"p":6,"w":4864,"f":0.80,"m":0.85,"r":0.40},{"p":6,"w":4871,"f":0.95,"m":0.93,"r":0.42},{"p":6,"w":4878,"f":0.97,"m":0.99,"r":0.39},{"p":6,"w":4885,"f":1.03,"m":1.00,"r":0.41},{"p":6,"w":4892,"f":0.97,"m":0.99,"r":0.38},{"p":6,"w":4899,"f":0.97,"m":0.96,"r":0.42},{"p":6,"w":4906,"f":0.91,"m":0.93,"r":0.39},{"p":6,"w":4913,"f":0.98,"m":0.96,"r":0.41},{"p":6,"w":4920,"f":0.98,"m":1.00,"r":0.38},
{"p":6,"w":4927,"f":1.05,"m":1.02,"r":0.42},{"p":6,"w":4934,"f":1.01,"m":1.03,"r":0.39},{"p":6,"w":4941,"f":1.07,"m":1.04,"r":0.41},{"p":6,"w":4948,"f":1.01,"m":1.03,"r":0.38},{"p":6,"w":4955,"f":1.05,"m":1.02,"r":0.42},{"p":6,"w":4962,"f":0.99,"m":1.01,"r":0.39},{"p":6,"w":4969,"f":1.04,"m":1.01,"r":0.41},{"p":6,"w":4976,"f":0.98,"m":1.00,"r":0.38},{"p":6,"w":4983,"f":1.03,"m":1.00,"r":0.42},{"p":6,"w":4990,"f":0.98,"m":1.00,"r":0.39},
{"p":6,"w":4997,"f":1.03,"m":1.00,"r":0.41},{"p":6,"w":5004,"f":0.98,"m":1.00,"r":0.38},{"p":6,"w":5011,"f":1.04,"m":1.01,"r":0.42},{"p":6,"w":5018,"f":0.99,"m":1.01,"r":0.39},{"p":6,"w":5025,"f":1.05,"m":1.02,"r":0.43},{"p":6,"w":5032,"f":1.00,"m":1.02,"r":0.39},{"p":6,"w":5039,"f":1.06,"m":1.03,"r":0.42},{"p":6,"w":5046,"f":1.01,"m":1.03,"r":0.38},{"p":6,"w":5053,"f":1.07,"m":1.04,"r":0.43},{"p":6,"w":5060,"f":1.02,"m":1.04,"r":0.39},
{"p":6,"w":5067,"f":1.09,"m":1.05,"r":0.42},{"p":6,"w":5074,"f":1.03,"m":1.05,"r":0.38},{"p":6,"w":5081,"f":1.10,"m":1.04,"r":0.44},{"p":6,"w":5088,"f":1.02,"m":1.04,"r":0.39},{"p":6,"w":5095,"f":1.07,"m":1.04,"r":0.41},{"p":6,"w":5102,"f":1.01,"m":1.03,"r":0.38},{"p":6,"w":5109,"f":1.06,"m":1.03,"r":0.42},{"p":6,"w":5116,"f":1.00,"m":1.02,"r":0.39},{"p":6,"w":5123,"f":1.05,"m":1.02,"r":0.41},{"p":6,"w":5130,"f":1.00,"m":1.02,"r":0.38},
{"p":6,"w":5137,"f":1.05,"m":1.02,"r":0.42},{"p":6,"w":5144,"f":0.99,"m":1.01,"r":0.39},{"p":6,"w":5151,"f":1.03,"m":1.00,"r":0.41},{"p":6,"w":5158,"f":0.95,"m":0.96,"r":0.38},{"p":6,"w":5165,"f":0.84,"m":0.86,"r":0.43},{"p":6,"w":5172,"f":0.77,"m":0.84,"r":0.37},{"p":6,"w":5179,"f":0.97,"m":0.95,"r":0.42},{"p":6,"w":5186,"f":0.98,"m":1.00,"r":0.39},{"p":6,"w":5193,"f":1.04,"m":1.01,"r":0.41},{"p":6,"w":5200,"f":1.00,"m":1.02,"r":0.38},
{"p":6,"w":5207,"f":1.06,"m":1.03,"r":0.42},{"p":6,"w":5214,"f":1.02,"m":1.04,"r":0.39},{"p":6,"w":5221,"f":1.08,"m":1.04,"r":0.43},{"p":6,"w":5228,"f":1.01,"m":1.03,"r":0.39},{"p":6,"w":5235,"f":1.04,"m":1.01,"r":0.41},{"p":6,"w":5242,"f":0.97,"m":0.99,"r":0.38},{"p":6,"w":5249,"f":1.02,"m":0.99,"r":0.42},{"p":6,"w":5256,"f":0.98,"m":1.00,"r":0.39},{"p":6,"w":5263,"f":1.02,"m":0.99,"r":0.41},{"p":6,"w":5270,"f":0.96,"m":0.98,"r":0.38},
{"p":6,"w":5277,"f":1.02,"m":0.99,"r":0.42},{"p":6,"w":5284,"f":0.98,"m":1.00,"r":0.39},{"p":6,"w":5291,"f":1.04,"m":1.01,"r":0.41},{"p":6,"w":5298,"f":0.99,"m":1.01,"r":0.38},{"p":6,"w":5305,"f":1.03,"m":1.00,"r":0.42},{"p":6,"w":5312,"f":0.98,"m":1.00,"r":0.39},{"p":6,"w":5319,"f":1.03,"m":1.00,"r":0.41},{"p":6,"w":5326,"f":0.97,"m":0.99,"r":0.38},{"p":6,"w":5333,"f":1.02,"m":0.99,"r":0.42},{"p":6,"w":5340,"f":0.96,"m":0.98,"r":0.39},
{"p":6,"w":5347,"f":1.01,"m":0.98,"r":0.41},{"p":6,"w":5354,"f":0.95,"m":0.97,"r":0.38},{"p":6,"w":5361,"f":1.00,"m":0.97,"r":0.42},{"p":6,"w":5368,"f":0.95,"m":0.97,"r":0.39},{"p":6,"w":5375,"f":1.00,"m":0.97,"r":0.41},{"p":6,"w":5382,"f":0.96,"m":0.98,"r":0.38},{"p":6,"w":5389,"f":1.02,"m":0.99,"r":0.42},{"p":6,"w":5396,"f":0.98,"m":1.00,"r":0.39},{"p":6,"w":5403,"f":1.05,"m":1.02,"r":0.41},{"p":6,"w":5410,"f":1.04,"m":1.03,"r":0.40},

{"p":7,"w":4717,"f":1.05,"m":1.00,"r":0.45},{"p":7,"w":4724,"f":0.94,"m":1.00,"r":0.33},{"p":7,"w":4731,"f":1.07,"m":1.01,"r":0.47},{"p":7,"w":4738,"f":0.95,"m":1.01,"r":0.34},{"p":7,"w":4745,"f":1.06,"m":1.01,"r":0.44},{"p":7,"w":4752,"f":0.94,"m":1.01,"r":0.32},{"p":7,"w":4759,"f":1.08,"m":1.01,"r":0.46},{"p":7,"w":4766,"f":0.97,"m":1.02,"r":0.35},{"p":7,"w":4773,"f":1.09,"m":1.02,"r":0.48},{"p":7,"w":4780,"f":0.96,"m":1.02,"r":0.33},
{"p":7,"w":4787,"f":1.08,"m":1.03,"r":0.45},{"p":7,"w":4794,"f":0.98,"m":1.03,"r":0.34},{"p":7,"w":4801,"f":1.60,"m":1.04,"r":0.95},{"p":7,"w":4808,"f":0.99,"m":1.04,"r":0.36},{"p":7,"w":4815,"f":1.09,"m":1.04,"r":0.46},{"p":7,"w":4822,"f":0.97,"m":1.03,"r":0.33},{"p":7,"w":4829,"f":1.07,"m":1.02,"r":0.44},{"p":7,"w":4836,"f":0.95,"m":1.00,"r":0.35},{"p":7,"w":4843,"f":0.98,"m":0.96,"r":0.43},{"p":7,"w":4850,"f":0.85,"m":0.88,"r":0.38},
{"p":7,"w":4857,"f":0.74,"m":0.75,"r":0.47},{"p":7,"w":4864,"f":0.67,"m":0.70,"r":0.52},{"p":7,"w":4871,"f":0.88,"m":0.84,"r":0.41},{"p":7,"w":4878,"f":0.89,"m":0.92,"r":0.36},{"p":7,"w":4885,"f":1.00,"m":0.95,"r":0.45},{"p":7,"w":4892,"f":0.92,"m":0.96,"r":0.34},{"p":7,"w":4899,"f":1.03,"m":0.97,"r":0.44},{"p":7,"w":4906,"f":0.93,"m":0.98,"r":0.33},{"p":7,"w":4913,"f":1.05,"m":0.99,"r":0.46},{"p":7,"w":4920,"f":0.95,"m":1.00,"r":0.35},
{"p":7,"w":4927,"f":1.06,"m":1.00,"r":0.45},{"p":7,"w":4934,"f":0.95,"m":1.00,"r":0.33},{"p":7,"w":4941,"f":1.05,"m":1.00,"r":0.47},{"p":7,"w":4948,"f":0.94,"m":1.00,"r":0.34},{"p":7,"w":4955,"f":1.04,"m":0.99,"r":0.45},{"p":7,"w":4962,"f":0.93,"m":0.99,"r":0.32},{"p":7,"w":4969,"f":1.04,"m":0.98,"r":0.44},{"p":7,"w":4976,"f":0.91,"m":0.97,"r":0.35},{"p":7,"w":4983,"f":1.03,"m":0.97,"r":0.46},{"p":7,"w":4990,"f":0.91,"m":0.96,"r":0.33},
{"p":7,"w":4997,"f":1.02,"m":0.96,"r":0.44},{"p":7,"w":5004,"f":0.89,"m":0.95,"r":0.34},{"p":7,"w":5011,"f":1.01,"m":0.95,"r":0.45},{"p":7,"w":5018,"f":0.90,"m":0.96,"r":0.33},{"p":7,"w":5025,"f":1.02,"m":0.96,"r":0.46},{"p":7,"w":5032,"f":0.90,"m":0.95,"r":0.35},{"p":7,"w":5039,"f":1.01,"m":0.95,"r":0.44},{"p":7,"w":5046,"f":0.91,"m":0.96,"r":0.33},{"p":7,"w":5053,"f":1.02,"m":0.96,"r":0.45},{"p":7,"w":5060,"f":0.90,"m":0.96,"r":0.34},
{"p":7,"w":5067,"f":1.03,"m":0.97,"r":0.46},{"p":7,"w":5074,"f":0.92,"m":0.97,"r":0.33},{"p":7,"w":5081,"f":1.06,"m":0.98,"r":0.47},{"p":7,"w":5088,"f":0.93,"m":0.98,"r":0.35},{"p":7,"w":5095,"f":1.05,"m":0.98,"r":0.45},{"p":7,"w":5102,"f":0.92,"m":0.98,"r":0.34},{"p":7,"w":5109,"f":1.03,"m":0.97,"r":0.44},{"p":7,"w":5116,"f":0.91,"m":0.97,"r":0.33},{"p":7,"w":5123,"f":1.04,"m":0.98,"r":0.46},{"p":7,"w":5130,"f":0.92,"m":0.98,"r":0.35},
{"p":7,"w":5137,"f":1.04,"m":0.98,"r":0.45},{"p":7,"w":5144,"f":0.91,"m":0.97,"r":0.33},{"p":7,"w":5151,"f":1.01,"m":0.96,"r":0.44},{"p":7,"w":5158,"f":0.90,"m":0.95,"r":0.34},{"p":7,"w":5165,"f":0.95,"m":0.93,"r":0.45},{"p":7,"w":5172,"f":0.87,"m":0.92,"r":0.35},{"p":7,"w":5179,"f":1.01,"m":0.96,"r":0.44},{"p":7,"w":5186,"f":0.95,"m":0.99,"r":0.33},{"p":7,"w":5193,"f":1.06,"m":1.00,"r":0.46},{"p":7,"w":5200,"f":0.96,"m":1.01,"r":0.35},
{"p":7,"w":5207,"f":1.08,"m":1.02,"r":0.47},{"p":7,"w":5214,"f":0.97,"m":1.02,"r":0.34},{"p":7,"w":5221,"f":1.09,"m":1.03,"r":0.45},{"p":7,"w":5228,"f":0.98,"m":1.03,"r":0.33},{"p":7,"w":5235,"f":1.08,"m":1.03,"r":0.46},{"p":7,"w":5242,"f":0.96,"m":1.02,"r":0.35},{"p":7,"w":5249,"f":1.07,"m":1.01,"r":0.44},{"p":7,"w":5256,"f":0.95,"m":1.00,"r":0.33},{"p":7,"w":5263,"f":1.04,"m":0.99,"r":0.45},{"p":7,"w":5270,"f":0.93,"m":0.98,"r":0.34},
{"p":7,"w":5277,"f":1.04,"m":0.98,"r":0.46},{"p":7,"w":5284,"f":0.92,"m":0.97,"r":0.35},{"p":7,"w":5291,"f":1.02,"m":0.96,"r":0.44},{"p":7,"w":5298,"f":0.90,"m":0.95,"r":0.33},{"p":7,"w":5305,"f":0.99,"m":0.94,"r":0.45},{"p":7,"w":5312,"f":0.87,"m":0.92,"r":0.34},{"p":7,"w":5319,"f":0.95,"m":0.90,"r":0.44},{"p":7,"w":5326,"f":0.84,"m":0.89,"r":0.33},{"p":7,"w":5333,"f":0.93,"m":0.88,"r":0.45},{"p":7,"w":5340,"f":0.83,"m":0.88,"r":0.34},
{"p":7,"w":5347,"f":0.93,"m":0.88,"r":0.46},{"p":7,"w":5354,"f":0.84,"m":0.89,"r":0.35},{"p":7,"w":5361,"f":0.95,"m":0.90,"r":0.44},{"p":7,"w":5368,"f":0.85,"m":0.90,"r":0.33},{"p":7,"w":5375,"f":0.96,"m":0.91,"r":0.45},{"p":7,"w":5382,"f":0.86,"m":0.91,"r":0.34},{"p":7,"w":5389,"f":0.97,"m":0.92,"r":0.46},{"p":7,"w":5396,"f":0.87,"m":0.92,"r":0.35},{"p":7,"w":5403,"f":0.96,"m":0.92,"r":0.44},{"p":7,"w":5410,"f":0.90,"m":0.93,"r":0.36}
 ]
},
"vconcat": [
 {"width": 269, "height": 69.3, "layer": [
  {"data": {"name": "mask"}, "transform": [{"filter": "datum.p == 1"}], "mark": {"type": "rect", "color": "#e3e3e3"}, "encoding": {"x": {"field": "a", "type": "quantitative", "scale": {"domain": [4717, 5410], "nice": false, "zero": false}, "axis": null}, "x2": {"field": "b"}}},
  {"data": {"name": "lines"}, "mark": {"type": "rule", "color": "#51699a", "strokeDash": [1, 1.5], "strokeWidth": 0.8}, "encoding": {"x": {"field": "w", "type": "quantitative", "axis": null}}},
  {"data": {"name": "spec"}, "transform": [{"filter": "datum.p == 1"}], "mark": {"type": "line", "color": "#708090", "strokeWidth": 0.8, "clip": true}, "encoding": {"x": {"field": "w", "type": "quantitative", "axis": null}, "y": {"field": "r", "type": "quantitative", "scale": {"domain": [0.18, 1.46], "nice": false, "zero": false}, "axis": {"title": null, "values": [0.5, 1.0], "format": ".1f"}}}},
  {"data": {"name": "spec"}, "transform": [{"filter": "datum.p == 1"}], "mark": {"type": "line", "color": "#000", "strokeWidth": 2.2, "clip": true}, "encoding": {"x": {"field": "w", "type": "quantitative", "axis": null}, "y": {"field": "f", "type": "quantitative", "axis": {"title": null, "values": [0.5, 1.0], "format": ".1f"}}}},
  {"data": {"name": "spec"}, "transform": [{"filter": "datum.p == 1"}], "mark": {"type": "line", "color": "#40E0D0", "strokeWidth": 1.3, "clip": true}, "encoding": {"x": {"field": "w", "type": "quantitative", "axis": null}, "y": {"field": "m", "type": "quantitative", "axis": {"title": null, "values": [0.5, 1.0], "format": ".1f"}}}},
  {"data": {"name": "lines"}, "mark": {"type": "text", "angle": 270, "align": "right", "baseline": "bottom", "fontSize": 5.5, "color": "#7d8fab", "font": "DejaVu Sans"}, "encoding": {"x": {"field": "w", "type": "quantitative", "axis": null}, "y": {"datum": 1.44, "type": "quantitative", "axis": {"title": null, "values": [0.5, 1.0], "format": ".1f"}}, "text": {"field": "t"}}},
  {"data": {"values": [{"n": "Yagi093"}]}, "mark": {"type": "text", "fontSize": 6.5, "color": "#111", "font": "DejaVu Sans"}, "encoding": {"x": {"datum": 5067, "type": "quantitative", "axis": null}, "y": {"datum": 1.35, "type": "quantitative", "axis": {"title": null, "values": [0.5, 1.0], "format": ".1f"}}, "text": {"field": "n"}}},
  {"data": {"values": [{}]}, "mark": {"type": "rect", "filled": false, "stroke": "#222", "strokeWidth": 1}, "encoding": {"x": {"datum": 4717, "type": "quantitative", "axis": null}, "x2": {"datum": 5410}, "y": {"datum": 0.18, "type": "quantitative", "axis": {"title": null, "values": [0.5, 1.0], "format": ".1f"}}, "y2": {"datum": 1.46}}}
 ]},
 {"width": 269, "height": 69.3, "layer": [
  {"data": {"name": "mask"}, "transform": [{"filter": "datum.p == 2"}], "mark": {"type": "rect", "color": "#e3e3e3"}, "encoding": {"x": {"field": "a", "type": "quantitative", "scale": {"domain": [4717, 5410], "nice": false, "zero": false}, "axis": null}, "x2": {"field": "b"}}},
  {"data": {"name": "lines"}, "mark": {"type": "rule", "color": "#51699a", "strokeDash": [1, 1.5], "strokeWidth": 0.8}, "encoding": {"x": {"field": "w", "type": "quantitative", "axis": null}}},
  {"data": {"name": "spec"}, "transform": [{"filter": "datum.p == 2"}], "mark": {"type": "line", "color": "#708090", "strokeWidth": 0.8, "clip": true}, "encoding": {"x": {"field": "w", "type": "quantitative", "axis": null}, "y": {"field": "r", "type": "quantitative", "scale": {"domain": [0.18, 1.46], "nice": false, "zero": false}, "axis": {"title": null, "values": [0.5, 1.0], "format": ".1f"}}}},
  {"data": {"name": "spec"}, "transform": [{"filter": "datum.p == 2"}], "mark": {"type": "line", "color": "#000", "strokeWidth": 2.2, "clip": true}, "encoding": {"x": {"field": "w", "type": "quantitative", "axis": null}, "y": {"field": "f", "type": "quantitative", "axis": {"title": null, "values": [0.5, 1.0], "format": ".1f"}}}},
  {"data": {"name": "spec"}, "transform": [{"filter": "datum.p == 2"}], "mark": {"type": "line", "color": "#40E0D0", "strokeWidth": 1.3, "clip": true}, "encoding": {"x": {"field": "w", "type": "quantitative", "axis": null}, "y": {"field": "m", "type": "quantitative", "axis": {"title": null, "values": [0.5, 1.0], "format": ".1f"}}}},
  {"data": {"values": [{"n": "Yagi098"}]}, "mark": {"type": "text", "fontSize": 6.5, "color": "#111", "font": "DejaVu Sans"}, "encoding": {"x": {"datum": 5067, "type": "quantitative", "axis": null}, "y": {"datum": 1.35, "type": "quantitative", "axis": {"title": null, "values": [0.5, 1.0], "format": ".1f"}}, "text": {"field": "n"}}},
  {"data": {"values": [{}]}, "mark": {"type": "rect", "filled": false, "stroke": "#222", "strokeWidth": 1}, "encoding": {"x": {"datum": 4717, "type": "quantitative", "axis": null}, "x2": {"datum": 5410}, "y": {"datum": 0.18, "type": "quantitative", "axis": {"title": null, "values": [0.5, 1.0], "format": ".1f"}}, "y2": {"datum": 1.46}}}
 ]},
 {"width": 269, "height": 69.3, "layer": [
  {"data": {"name": "mask"}, "transform": [{"filter": "datum.p == 3"}], "mark": {"type": "rect", "color": "#e3e3e3"}, "encoding": {"x": {"field": "a", "type": "quantitative", "scale": {"domain": [4717, 5410], "nice": false, "zero": false}, "axis": null}, "x2": {"field": "b"}}},
  {"data": {"name": "lines"}, "mark": {"type": "rule", "color": "#51699a", "strokeDash": [1, 1.5], "strokeWidth": 0.8}, "encoding": {"x": {"field": "w", "type": "quantitative", "axis": null}}},
  {"data": {"name": "spec"}, "transform": [{"filter": "datum.p == 3"}], "mark": {"type": "line", "color": "#708090", "strokeWidth": 0.8, "clip": true}, "encoding": {"x": {"field": "w", "type": "quantitative", "axis": null}, "y": {"field": "r", "type": "quantitative", "scale": {"domain": [0.18, 1.46], "nice": false, "zero": false}, "axis": {"title": null, "values": [0.5, 1.0], "format": ".1f"}}}},
  {"data": {"name": "spec"}, "transform": [{"filter": "datum.p == 3"}], "mark": {"type": "line", "color": "#000", "strokeWidth": 2.2, "clip": true}, "encoding": {"x": {"field": "w", "type": "quantitative", "axis": null}, "y": {"field": "f", "type": "quantitative", "axis": {"title": null, "values": [0.5, 1.0], "format": ".1f"}}}},
  {"data": {"name": "spec"}, "transform": [{"filter": "datum.p == 3"}], "mark": {"type": "line", "color": "#40E0D0", "strokeWidth": 1.3, "clip": true}, "encoding": {"x": {"field": "w", "type": "quantitative", "axis": null}, "y": {"field": "m", "type": "quantitative", "axis": {"title": null, "values": [0.5, 1.0], "format": ".1f"}}}},
  {"data": {"values": [{"n": "Yagi275"}]}, "mark": {"type": "text", "fontSize": 6.5, "color": "#111", "font": "DejaVu Sans"}, "encoding": {"x": {"datum": 5067, "type": "quantitative", "axis": null}, "y": {"datum": 1.35, "type": "quantitative", "axis": {"title": null, "values": [0.5, 1.0], "format": ".1f"}}, "text": {"field": "n"}}},
  {"data": {"values": [{}]}, "mark": {"type": "rect", "filled": false, "stroke": "#222", "strokeWidth": 1}, "encoding": {"x": {"datum": 4717, "type": "quantitative", "axis": null}, "x2": {"datum": 5410}, "y": {"datum": 0.18, "type": "quantitative", "axis": {"title": null, "values": [0.5, 1.0], "format": ".1f"}}, "y2": {"datum": 1.46}}}
 ]},
 {"width": 269, "height": 69.3, "layer": [
  {"data": {"name": "mask"}, "transform": [{"filter": "datum.p == 4"}], "mark": {"type": "rect", "color": "#e3e3e3"}, "encoding": {"x": {"field": "a", "type": "quantitative", "scale": {"domain": [4717, 5410], "nice": false, "zero": false}, "axis": null}, "x2": {"field": "b"}}},
  {"data": {"name": "lines"}, "mark": {"type": "rule", "color": "#51699a", "strokeDash": [1, 1.5], "strokeWidth": 0.8}, "encoding": {"x": {"field": "w", "type": "quantitative", "axis": null}}},
  {"data": {"name": "spec"}, "transform": [{"filter": "datum.p == 4"}], "mark": {"type": "line", "color": "#708090", "strokeWidth": 0.8, "clip": true}, "encoding": {"x": {"field": "w", "type": "quantitative", "axis": null}, "y": {"field": "r", "type": "quantitative", "scale": {"domain": [0.18, 1.46], "nice": false, "zero": false}, "axis": {"title": "Normalized Flux", "titlePadding": 4, "values": [0.5, 1.0], "format": ".1f"}}}},
  {"data": {"name": "spec"}, "transform": [{"filter": "datum.p == 4"}], "mark": {"type": "line", "color": "#000", "strokeWidth": 2.2, "clip": true}, "encoding": {"x": {"field": "w", "type": "quantitative", "axis": null}, "y": {"field": "f", "type": "quantitative", "axis": {"title": "Normalized Flux", "titlePadding": 4, "values": [0.5, 1.0], "format": ".1f"}}}},
  {"data": {"name": "spec"}, "transform": [{"filter": "datum.p == 4"}], "mark": {"type": "line", "color": "#40E0D0", "strokeWidth": 1.3, "clip": true}, "encoding": {"x": {"field": "w", "type": "quantitative", "axis": null}, "y": {"field": "m", "type": "quantitative", "axis": {"title": "Normalized Flux", "titlePadding": 4, "values": [0.5, 1.0], "format": ".1f"}}}},
  {"data": {"values": [{"n": "Yagi276"}]}, "mark": {"type": "text", "fontSize": 6.5, "color": "#111", "font": "DejaVu Sans"}, "encoding": {"x": {"datum": 5067, "type": "quantitative", "axis": null}, "y": {"datum": 1.35, "type": "quantitative", "axis": {"title": "Normalized Flux", "titlePadding": 4, "values": [0.5, 1.0], "format": ".1f"}}, "text": {"field": "n"}}},
  {"data": {"values": [{}]}, "mark": {"type": "rect", "filled": false, "stroke": "#222", "strokeWidth": 1}, "encoding": {"x": {"datum": 4717, "type": "quantitative", "axis": null}, "x2": {"datum": 5410}, "y": {"datum": 0.18, "type": "quantitative", "axis": {"title": "Normalized Flux", "titlePadding": 4, "values": [0.5, 1.0], "format": ".1f"}}, "y2": {"datum": 1.46}}}
 ]},
 {"width": 269, "height": 69.3, "layer": [
  {"data": {"name": "mask"}, "transform": [{"filter": "datum.p == 5"}], "mark": {"type": "rect", "color": "#e3e3e3"}, "encoding": {"x": {"field": "a", "type": "quantitative", "scale": {"domain": [4717, 5410], "nice": false, "zero": false}, "axis": null}, "x2": {"field": "b"}}},
  {"data": {"name": "lines"}, "mark": {"type": "rule", "color": "#51699a", "strokeDash": [1, 1.5], "strokeWidth": 0.8}, "encoding": {"x": {"field": "w", "type": "quantitative", "axis": null}}},
  {"data": {"name": "spec"}, "transform": [{"filter": "datum.p == 5"}], "mark": {"type": "line", "color": "#708090", "strokeWidth": 0.8, "clip": true}, "encoding": {"x": {"field": "w", "type": "quantitative", "axis": null}, "y": {"field": "r", "type": "quantitative", "scale": {"domain": [0.18, 1.46], "nice": false, "zero": false}, "axis": {"title": null, "values": [0.5, 1.0], "format": ".1f"}}}},
  {"data": {"name": "spec"}, "transform": [{"filter": "datum.p == 5"}], "mark": {"type": "line", "color": "#000", "strokeWidth": 2.2, "clip": true}, "encoding": {"x": {"field": "w", "type": "quantitative", "axis": null}, "y": {"field": "f", "type": "quantitative", "axis": {"title": null, "values": [0.5, 1.0], "format": ".1f"}}}},
  {"data": {"name": "spec"}, "transform": [{"filter": "datum.p == 5"}], "mark": {"type": "line", "color": "#40E0D0", "strokeWidth": 1.3, "clip": true}, "encoding": {"x": {"field": "w", "type": "quantitative", "axis": null}, "y": {"field": "m", "type": "quantitative", "axis": {"title": null, "values": [0.5, 1.0], "format": ".1f"}}}},
  {"data": {"values": [{"n": "Yagi392"}]}, "mark": {"type": "text", "fontSize": 6.5, "color": "#111", "font": "DejaVu Sans"}, "encoding": {"x": {"datum": 5067, "type": "quantitative", "axis": null}, "y": {"datum": 1.35, "type": "quantitative", "axis": {"title": null, "values": [0.5, 1.0], "format": ".1f"}}, "text": {"field": "n"}}},
  {"data": {"values": [{}]}, "mark": {"type": "rect", "filled": false, "stroke": "#222", "strokeWidth": 1}, "encoding": {"x": {"datum": 4717, "type": "quantitative", "axis": null}, "x2": {"datum": 5410}, "y": {"datum": 0.18, "type": "quantitative", "axis": {"title": null, "values": [0.5, 1.0], "format": ".1f"}}, "y2": {"datum": 1.46}}}
 ]},
 {"width": 269, "height": 69.3, "layer": [
  {"data": {"name": "mask"}, "transform": [{"filter": "datum.p == 6"}], "mark": {"type": "rect", "color": "#e3e3e3"}, "encoding": {"x": {"field": "a", "type": "quantitative", "scale": {"domain": [4717, 5410], "nice": false, "zero": false}, "axis": null}, "x2": {"field": "b"}}},
  {"data": {"name": "lines"}, "mark": {"type": "rule", "color": "#51699a", "strokeDash": [1, 1.5], "strokeWidth": 0.8}, "encoding": {"x": {"field": "w", "type": "quantitative", "axis": null}}},
  {"data": {"name": "spec"}, "transform": [{"filter": "datum.p == 6"}], "mark": {"type": "line", "color": "#708090", "strokeWidth": 0.8, "clip": true}, "encoding": {"x": {"field": "w", "type": "quantitative", "axis": null}, "y": {"field": "r", "type": "quantitative", "scale": {"domain": [0.18, 1.46], "nice": false, "zero": false}, "axis": {"title": null, "values": [0.5, 1.0], "format": ".1f"}}}},
  {"data": {"name": "spec"}, "transform": [{"filter": "datum.p == 6"}], "mark": {"type": "line", "color": "#000", "strokeWidth": 2.2, "clip": true}, "encoding": {"x": {"field": "w", "type": "quantitative", "axis": null}, "y": {"field": "f", "type": "quantitative", "axis": {"title": null, "values": [0.5, 1.0], "format": ".1f"}}}},
  {"data": {"name": "spec"}, "transform": [{"filter": "datum.p == 6"}], "mark": {"type": "line", "color": "#40E0D0", "strokeWidth": 1.3, "clip": true}, "encoding": {"x": {"field": "w", "type": "quantitative", "axis": null}, "y": {"field": "m", "type": "quantitative", "axis": {"title": null, "values": [0.5, 1.0], "format": ".1f"}}}},
  {"data": {"values": [{"n": "Yagi398"}]}, "mark": {"type": "text", "fontSize": 6.5, "color": "#111", "font": "DejaVu Sans"}, "encoding": {"x": {"datum": 5067, "type": "quantitative", "axis": null}, "y": {"datum": 1.35, "type": "quantitative", "axis": {"title": null, "values": [0.5, 1.0], "format": ".1f"}}, "text": {"field": "n"}}},
  {"data": {"values": [{}]}, "mark": {"type": "rect", "filled": false, "stroke": "#222", "strokeWidth": 1}, "encoding": {"x": {"datum": 4717, "type": "quantitative", "axis": null}, "x2": {"datum": 5410}, "y": {"datum": 0.18, "type": "quantitative", "axis": {"title": null, "values": [0.5, 1.0], "format": ".1f"}}, "y2": {"datum": 1.46}}}
 ]},
 {"width": 269, "height": 69.3, "layer": [
  {"data": {"name": "mask"}, "transform": [{"filter": "datum.p == 7"}], "mark": {"type": "rect", "color": "#e3e3e3"}, "encoding": {"x": {"field": "a", "type": "quantitative", "scale": {"domain": [4717, 5410], "nice": false, "zero": false}, "axis": {"title": "Wavelength (Å)", "values": [4800, 4900, 5000, 5100, 5200, 5300, 5400], "format": "d"}}, "x2": {"field": "b"}}},
  {"data": {"name": "lines"}, "mark": {"type": "rule", "color": "#51699a", "strokeDash": [1, 1.5], "strokeWidth": 0.8}, "encoding": {"x": {"field": "w", "type": "quantitative", "axis": {"title": "Wavelength (Å)", "values": [4800, 4900, 5000, 5100, 5200, 5300, 5400], "format": "d"}}}},
  {"data": {"name": "spec"}, "transform": [{"filter": "datum.p == 7"}], "mark": {"type": "line", "color": "#708090", "strokeWidth": 0.8, "clip": true}, "encoding": {"x": {"field": "w", "type": "quantitative", "axis": {"title": "Wavelength (Å)", "values": [4800, 4900, 5000, 5100, 5200, 5300, 5400], "format": "d"}}, "y": {"field": "r", "type": "quantitative", "scale": {"domain": [0.18, 1.46], "nice": false, "zero": false}, "axis": {"title": null, "values": [0.5, 1.0], "format": ".1f"}}}},
  {"data": {"name": "spec"}, "transform": [{"filter": "datum.p == 7"}], "mark": {"type": "line", "color": "#000", "strokeWidth": 2.2, "clip": true}, "encoding": {"x": {"field": "w", "type": "quantitative", "axis": {"title": "Wavelength (Å)", "values": [4800, 4900, 5000, 5100, 5200, 5300, 5400], "format": "d"}}, "y": {"field": "f", "type": "quantitative", "axis": {"title": null, "values": [0.5, 1.0], "format": ".1f"}}}},
  {"data": {"name": "spec"}, "transform": [{"filter": "datum.p == 7"}], "mark": {"type": "line", "color": "#40E0D0", "strokeWidth": 1.3, "clip": true}, "encoding": {"x": {"field": "w", "type": "quantitative", "axis": {"title": "Wavelength (Å)", "values": [4800, 4900, 5000, 5100, 5200, 5300, 5400], "format": "d"}}, "y": {"field": "m", "type": "quantitative", "axis": {"title": null, "values": [0.5, 1.0], "format": ".1f"}}}},
  {"data": {"values": [{"n": "Yagi418"}]}, "mark": {"type": "text", "fontSize": 6.5, "color": "#111", "font": "DejaVu Sans"}, "encoding": {"x": {"datum": 5067, "type": "quantitative", "axis": {"title": "Wavelength (Å)", "values": [4800, 4900, 5000, 5100, 5200, 5300, 5400], "format": "d"}}, "y": {"datum": 1.35, "type": "quantitative", "axis": {"title": null, "values": [0.5, 1.0], "format": ".1f"}}, "text": {"field": "n"}}},
  {"data": {"values": [{}]}, "mark": {"type": "rect", "filled": false, "stroke": "#222", "strokeWidth": 1}, "encoding": {"x": {"datum": 4717, "type": "quantitative", "axis": {"title": "Wavelength (Å)", "values": [4800, 4900, 5000, 5100, 5200, 5300, 5400], "format": "d"}}, "x2": {"datum": 5410}, "y": {"datum": 0.18, "type": "quantitative", "axis": {"title": null, "values": [0.5, 1.0], "format": ".1f"}}, "y2": {"datum": 1.46}}}
 ]}
]
}
